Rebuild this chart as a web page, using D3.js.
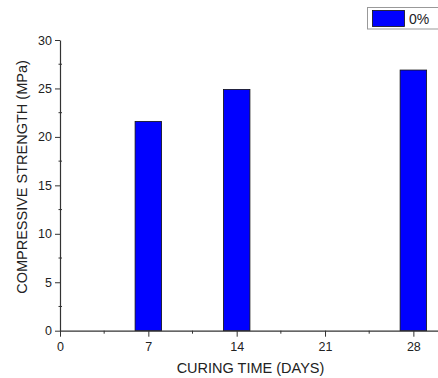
<!DOCTYPE html>
<html><head><meta charset="utf-8">
<script src="https://cdn.jsdelivr.net/npm/d3@7"></script>
<style>body{margin:0;background:#fff}svg{display:block;font-family:"Liberation Sans",Arial,sans-serif}</style>
</head><body>
<svg id="c" width="438" height="378"></svg>
<script>
const days = [7, 14, 28];
const strength = [21.6, 24.9, 26.9];
const seriesName = "0%";
const xTicks = [0, 7, 14, 21, 28];
const yTicks = [0, 5, 10, 15, 20, 25, 30];

const svg = d3.select("#c");
const x = d3.scaleLinear().domain([0, 30]).range([60, 438.6]);
const y = d3.scaleLinear().domain([0, 30]).range([330.7, 40]);
const barW = 2.1;

// bars
svg.append("g").selectAll("rect").data(days).join("rect")
  .attr("x", d => x(d - barW/2))
  .attr("y", (d,i) => y(strength[i]))
  .attr("width", d => x(d + barW/2) - x(d - barW/2))
  .attr("height", (d,i) => y(0) - y(strength[i]))
  .attr("fill", "#0000ff").attr("stroke", "#111").attr("stroke-width", 0.8);

// x axis
const gx = svg.append("g").attr("transform", `translate(0,${y(0)})`)
  .call(d3.axisBottom(x).tickValues(xTicks).tickSize(6).tickSizeOuter(0).tickPadding(5));
gx.append("g").selectAll("line").data(d3.range(3.5, 30, 7)).join("line")
  .attr("x1", d => x(d)).attr("x2", d => x(d)).attr("y1", 0).attr("y2", 3)
  .attr("stroke", "#333");
// y axis
const gy = svg.append("g").attr("transform", `translate(${x(0)},0)`)
  .call(d3.axisLeft(y).tickValues(yTicks).tickSize(5).tickSizeOuter(0).tickPadding(3));
gy.append("g").selectAll("line").data(d3.range(2.5, 30, 5)).join("line")
  .attr("x1", -1.5).attr("x2", 2).attr("y1", d => y(d)).attr("y2", d => y(d))
  .attr("stroke", "#333");

[gx, gy].forEach(g => {
  g.select(".domain").attr("stroke", "#333").attr("stroke-width", 1.2);
  g.selectAll(".tick line").attr("stroke", "#333");
  g.selectAll(".tick text").attr("font-size", 12.5).attr("fill", "#222")
    .attr("font-family", '"Liberation Sans",Arial,sans-serif');
});

// axis titles
svg.append("text").attr("x", 250.5).attr("y", 373).attr("text-anchor", "middle")
  .attr("font-size", 14.5).attr("fill", "#222").text("CURING TIME (DAYS)");
svg.append("text").attr("transform", "translate(27,177) rotate(-90)")
  .attr("text-anchor", "middle").attr("font-size", 14.5).attr("fill", "#222")
  .text("COMPRESSIVE STRENGTH (MPa)");

// legend
const lg = svg.append("g");
lg.append("rect").attr("x", 367.5).attr("y", 7.5).attr("width", 80).attr("height", 21.5)
  .attr("fill", "#fff").attr("stroke", "#999").attr("stroke-width", 1);
lg.append("rect").attr("x", 372.5).attr("y", 10.5).attr("width", 32).attr("height", 16)
  .attr("fill", "#0000ff").attr("stroke", "#111").attr("stroke-width", 0.8);
lg.append("text").attr("x", 409).attr("y", 24).attr("font-size", 14).attr("fill", "#222").text(seriesName);
</script>
</body></html>
